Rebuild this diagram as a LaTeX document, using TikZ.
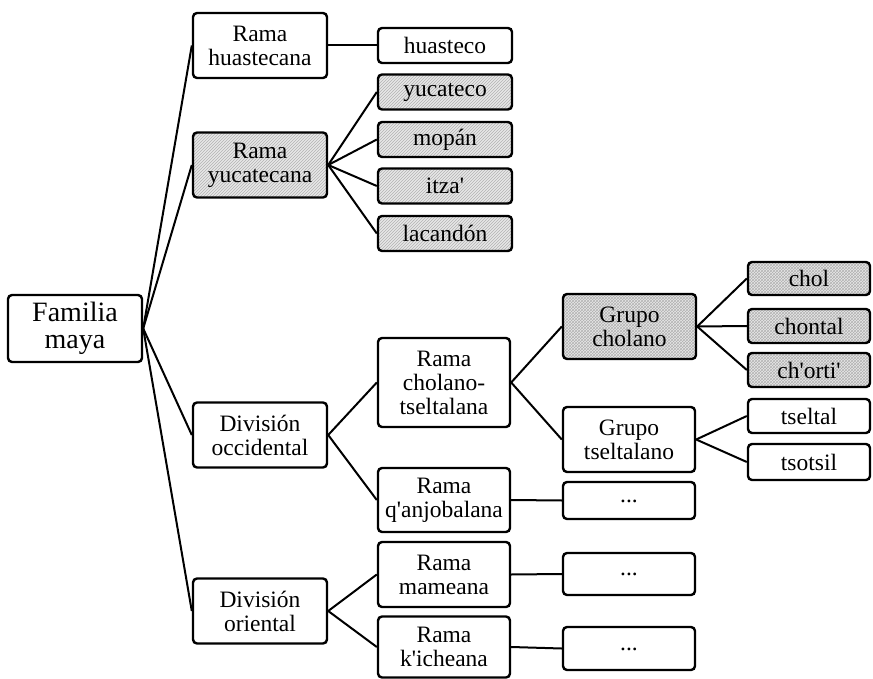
\documentclass[tikz,border=0pt]{standalone}
\usepackage{fontspec}
\setmainfont[Ligatures=TeXOff]{Liberation Serif}
\usetikzlibrary{patterns}
\tikzset{
  box/.style={draw, line width=2.4pt, rounded corners=4pt, align=center, inner sep=0pt,
    font=\fontsize{23.5}{24}\selectfont, minimum width=134pt},
  big/.style={box, minimum height=65pt},
  small/.style={box, minimum height=35pt},
  hatch/.style={preaction={fill=gray!18}, pattern=north east lines, pattern color=gray!60},
  cross/.style={preaction={fill=gray!18}, pattern=crosshatch, pattern color=gray!60},
  link/.style={line width=2pt}
}
\begin{document}
\begin{tikzpicture}[x=1pt,y=-1pt]
\useasboundingbox (0,0) rectangle (873,679);
\node[box, minimum height=67pt, font=\fontsize{28}{27}\selectfont] (fam) at (75,328.5) {Familia\\maya};
\node[big] (rh) at (260,45.5) {Rama\\huastecana};
\node[big, hatch] (ry) at (260,165) {Rama\\yucatecana};
\node[big] (docc) at (260,435) {División\\occidental};
\node[big] (dor) at (260,611) {División\\oriental};
\node[small] (hua) at (445,45.5) {huasteco};
\node[small, hatch] (yuc) at (445,92) {yucateco};
\node[small, hatch] (mop) at (445,139.5) {mopán};
\node[small, hatch] (itz) at (445,186) {itza'};
\node[small, hatch] (lac) at (445,233.5) {lacandón};
\node[box, minimum width=132pt, minimum height=89pt] (rct) at (444,382.5) {Rama\\cholano-\\tseltalana};
\node[box, minimum width=132pt, minimum height=64pt] (rq) at (444,500) {Rama\\q'anjobalana};
\node[box, minimum width=132pt, minimum height=65pt] (rm) at (444,574.5) {Rama\\mameana};
\node[box, minimum width=132pt, minimum height=61pt] (rk) at (444,647) {Rama\\k'icheana};
\node[box, minimum width=133pt, minimum height=65pt, cross] (gc) at (629.5,326.5) {Grupo\\cholano};
\node[box, minimum width=132pt, minimum height=65pt] (gt) at (629,439.5) {Grupo\\tseltalano};
\node[small, minimum width=122pt, minimum height=33pt, cross] (chol) at (809,278.5) {chol};
\node[small, minimum width=122pt, minimum height=34pt, cross] (chon) at (809,326) {chontal};
\node[small, minimum width=122pt, minimum height=34pt, cross] (chor) at (809,370) {ch'orti'};
\node[small, minimum width=122pt, minimum height=34pt] (tse) at (809,416) {tseltal};
\node[small, minimum width=122pt, minimum height=36pt] (tso) at (809,462) {tsotsil};
\node[box, minimum width=132pt, minimum height=37pt] (d1) at (629,500.5) {\raisebox{-4pt}{...}};
\node[box, minimum width=132pt, minimum height=42pt] (d2) at (629,574) {\raisebox{-4pt}{...}};
\node[box, minimum width=132pt, minimum height=43pt] (d3) at (629,648.5) {\raisebox{-4pt}{...}};
\foreach \t in {rh,ry,docc,dor} \draw[link] (fam.east) -- (\t.west);
\draw[link] (rh.east) -- (hua.west);
\foreach \t in {yuc,mop,itz,lac} \draw[link] (ry.east) -- (\t.west);
\foreach \t in {rct,rq} \draw[link] (docc.east) -- (\t.west);
\foreach \t in {rm,rk} \draw[link] (dor.east) -- (\t.west);
\foreach \t in {gc,gt} \draw[link] (rct.east) -- (\t.west);
\foreach \t in {chol,chon,chor} \draw[link] (gc.east) -- (\t.west);
\foreach \t in {tse,tso} \draw[link] (gt.east) -- (\t.west);
\draw[link] (rq.east) -- (d1.west);
\draw[link] (rm.east) -- (d2.west);
\draw[link] (rk.east) -- (d3.west);
\end{tikzpicture}
\end{document}
